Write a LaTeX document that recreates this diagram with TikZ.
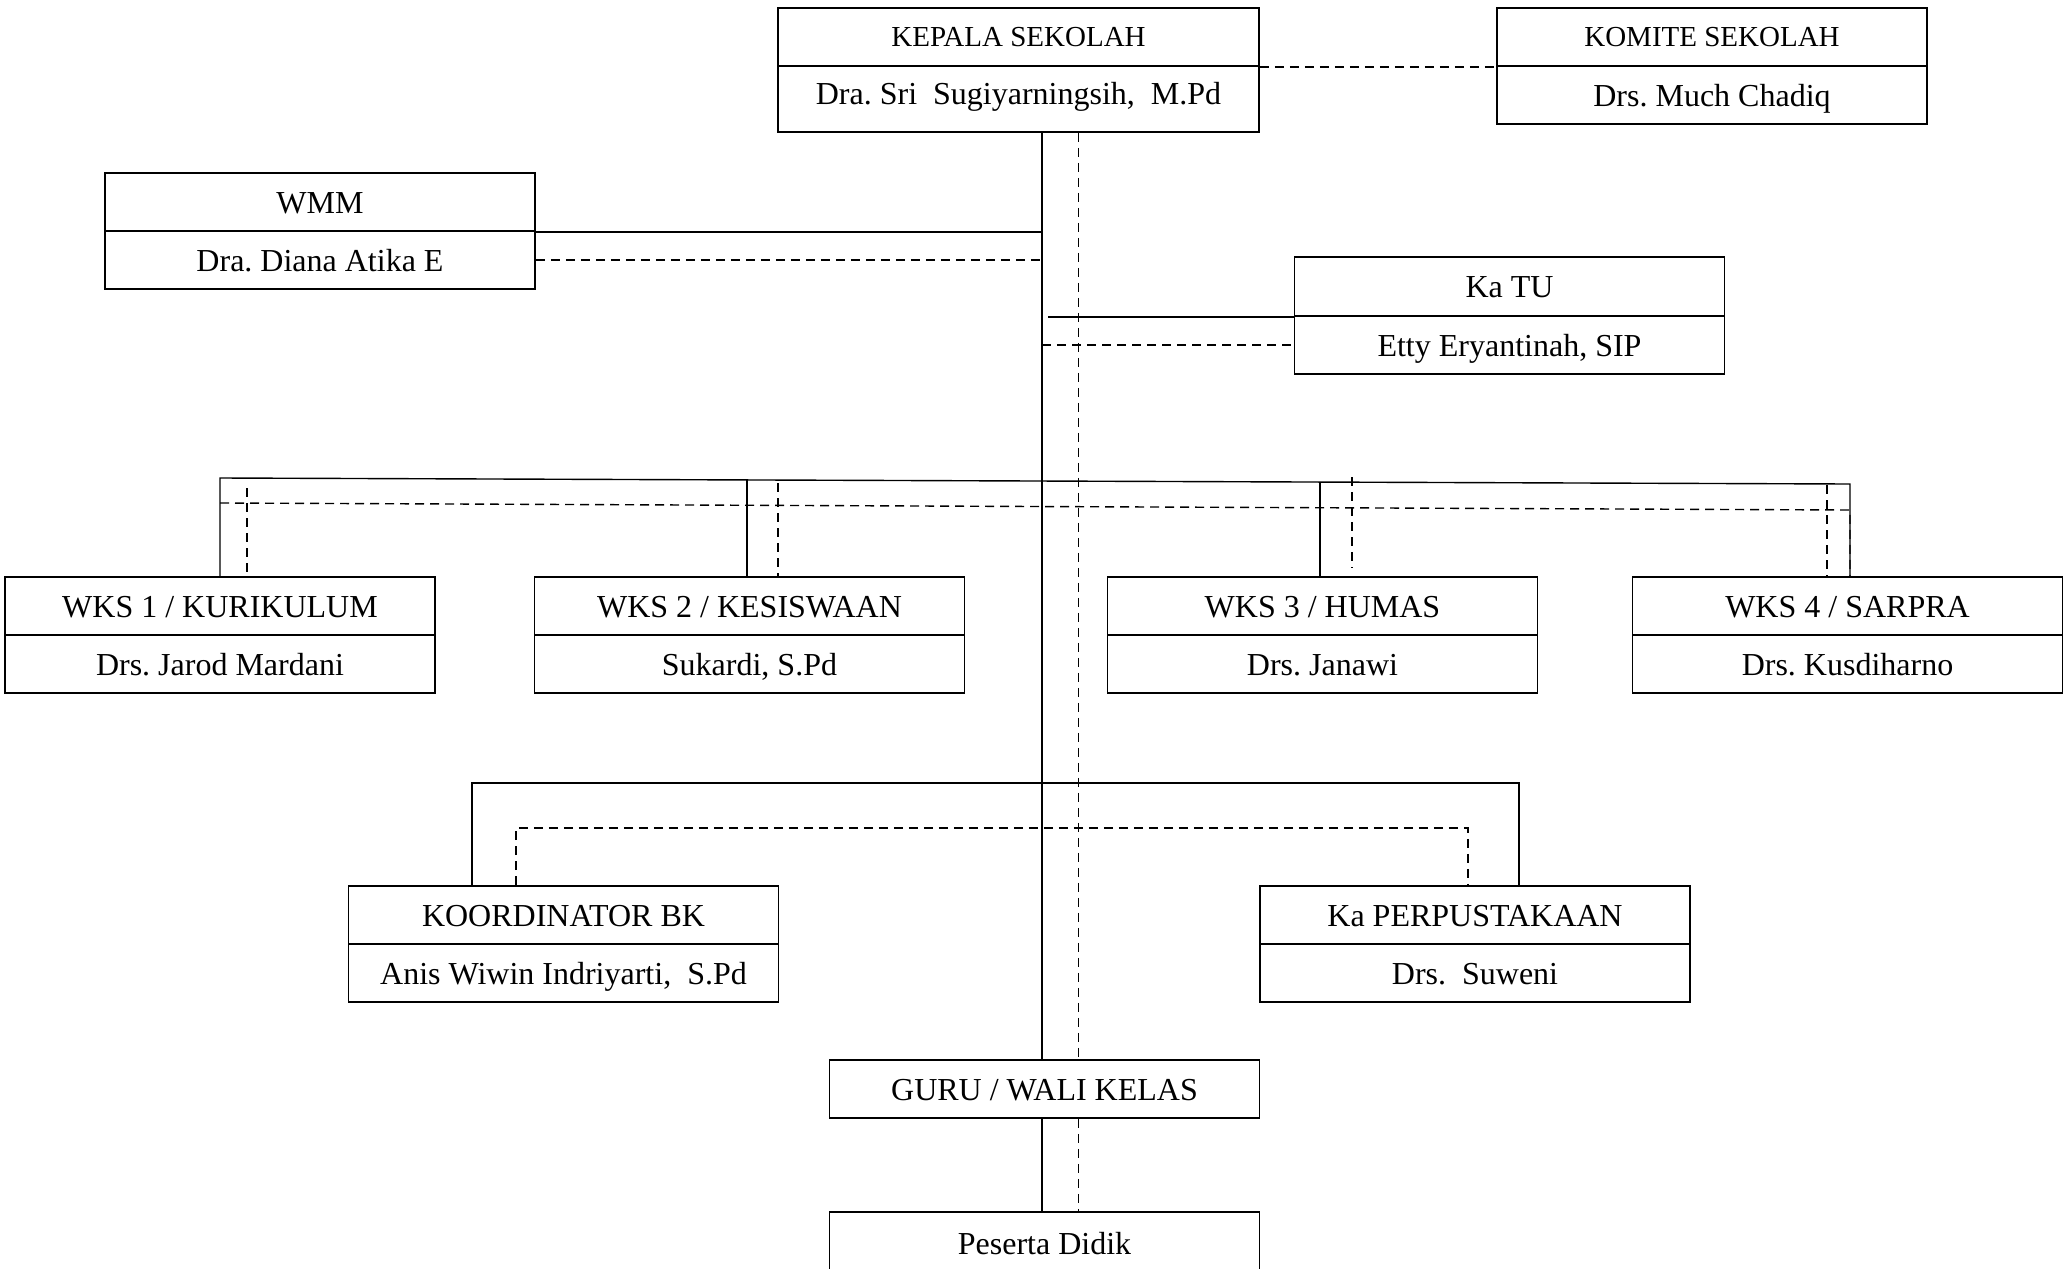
\documentclass[tikz,border=0pt]{standalone}
\usepackage{fontspec}
\setmainfont{Liberation Serif}
\frenchspacing
\begin{document}
\frenchspacing
\begin{tikzpicture}[x=1pt,y=-1pt,
  cell/.style={draw, line width=1.6pt, inner sep=0pt, minimum width=430pt, minimum height=58pt,
    font=\fontsize{32}{38}\selectfont\frenchspacing, text height=22pt, text depth=0pt},
  smallhdr/.style={font=\fontsize{29}{35}\selectfont, text height=19pt},
  conn/.style={line width=1.4pt},
  dline/.style={line width=1.4pt, dash pattern=on 9pt off 6pt}]
\useasboundingbox (0,0) rectangle (2065,1269);

% boxes
\node[cell, smallhdr, minimum width=481pt] (kepH) at (1018.5,37) {KEPALA SEKOLAH};
\node[cell, minimum width=481pt, minimum height=66pt, text depth=12pt] (kepB) at (1018.5,99) {Dra. Sri\ \ Sugiyarningsih,\ \ M.Pd};

\node[cell, smallhdr] (komH) at (1712,37) {KOMITE SEKOLAH};
\node[cell] (komB) at (1712,95) {Drs. Much Chadiq};

\node[cell] (wmmH) at (320,202) {WMM};
\node[cell] (wmmB) at (320,260) {Dra. Diana Atika E};

\node[cell, minimum height=59pt] (katuH) at (1509.5,286.5) {Ka TU};
\node[cell] (katuB) at (1509.5,345) {Etty Eryantinah, SIP};

\node[cell] (wks1H) at (220,606) {WKS 1 / KURIKULUM};
\node[cell] (wks1B) at (220,664) {Drs. Jarod Mardani};
\node[cell] (wks2H) at (749.5,606) {WKS 2 / KESISWAAN};
\node[cell] (wks2B) at (749.5,664) {Sukardi, S.Pd};
\node[cell] (wks3H) at (1322.5,606) {WKS 3 / HUMAS};
\node[cell] (wks3B) at (1322.5,664) {Drs. Janawi};
\node[cell] (wks4H) at (1847.5,606) {WKS 4 / SARPRA};
\node[cell] (wks4B) at (1847.5,664) {Drs. Kusdiharno};

\node[cell] (koordH) at (563.5,915) {KOORDINATOR BK};
\node[cell] (koordB) at (563.5,973) {Anis Wiwin Indriyarti,\ \ S.Pd};
\node[cell] (perpH) at (1475,915) {Ka PERPUSTAKAAN};
\node[cell] (perpB) at (1475,973) {Drs.\ \ Suweni};

\node[cell] (guru) at (1044.5,1089) {GURU / WALI KELAS};
\node[cell, minimum height=62pt] (pes) at (1044.5,1243) {Peserta Didik};

% reference coordinates
\coordinate (sx) at (1042,0);
\coordinate (dx) at (1078.5,0);
\coordinate (katuS) at (1048,0);
\coordinate (tL) at (220,478);
\coordinate (tR) at (1850,484);
\coordinate (w2s) at (747,480);
\coordinate (w3s) at (1320,482);
\coordinate (dL) at (220,503);
\coordinate (dR) at (1850,510);
\coordinate (d1) at (247,488);
\coordinate (d2) at (778,483);
\coordinate (d3) at (1352,477);
\coordinate (d4) at (1827,485);
\coordinate (d3e) at (1352,568);
\coordinate (bsL) at (472,783);
\coordinate (bsR) at (1519,783);
\coordinate (bdL) at (516,828);
\coordinate (bdR) at (1468,828);

% main spine
\draw[conn] (kepB.south -| sx) -- (guru.north -| sx);
\draw[conn] (guru.south -| sx) -- (pes.north -| sx);
\draw[dline] (kepB.south -| dx) -- (guru.north -| dx);
\draw[dline] (guru.south -| dx) -- (pes.north -| dx);

% kepala - komite
\draw[dline] (kepH.south east) -- (komH.south west);

% WMM
\draw[conn] (wmmH.south east) -- (wmmH.south east -| sx);
\draw[dline] (wmmB.east) -- (wmmB.east -| sx);

% Ka TU
\draw[conn] (katuH.south west -| katuS) -- (katuH.south west);
\draw[dline] (katuB.west -| sx) -- (katuB.west);

% WKS row solid
\draw[conn] (wks1H.north) -- (tL) -- (tR) -- (tR |- wks4H.north);
\draw[conn] (w2s) -- (w2s |- wks2H.north);
\draw[conn] (w3s) -- (w3s |- wks3H.north);
% WKS row dashed
\draw[dline] (dL) -- (dR) -- (dR |- wks4H.north);
\draw[dline] (d1) -- (d1 |- wks1H.north);
\draw[dline] (d2) -- (d2 |- wks2H.north);
\draw[dline] (d3) -- (d3e);
\draw[dline] (d4) -- (d4 |- wks4H.north);

% bottom row
\draw[conn] (bsL |- koordH.north) -- (bsL) -- (bsR) -- (bsR |- perpH.north);
\draw[dline] (bdL |- koordH.north) -- (bdL) -- (bdR) -- (bdR |- perpH.north);
\end{tikzpicture}
\end{document}
